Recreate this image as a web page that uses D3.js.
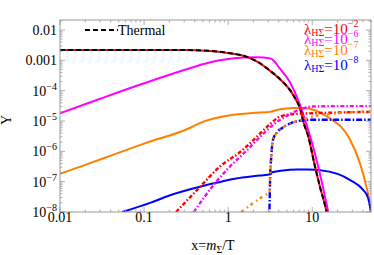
<!DOCTYPE html>
<html><head><meta charset="utf-8">
<script src="https://cdn.jsdelivr.net/npm/d3@7"></script>
<style>body{margin:0;background:#fff}svg{display:block}text{font-family:"Liberation Serif","DejaVu Serif",serif}</style>
</head><body><svg id="c" width="374" height="255"></svg>
<script>
// ---- data (x, Y) ----
const thermal = [[0.01,2.2e-3],[0.1,2.2e-3],[0.3,2.18e-3],[0.6,2.05e-3],[1,1.75e-3],[1.67,1.3e-3],[2.3,8.5e-4],[3.16,4.5e-4],[4.2,2.3e-4],[5.5,1e-4],[6.4,5e-5],[7.2,2.5e-5],[7.8,1e-5],[9,3e-6],[10.7,3.5e-7],[12.5,6e-8],[14.8,1e-8],[16,3e-9]];
const red_solid = thermal.map(d => d.slice());
const mag_solid = [[0.01,1.8e-5],[0.03,5.4e-5],[0.1,1.75e-4],[0.3,4.8e-4],[0.6,8.5e-4],[1,1.1e-3],[1.5,1.25e-3],[2.2,1.27e-3],[3.2,1.15e-3],[4.2,5e-4],[5.5,1.8e-4],[7,4e-5],[8.2,1.1e-5],[10,1.8e-6],[12,2.5e-7],[15.5,1e-8],[17,3e-9]];
const org_solid = [[0.01,1.8e-7],[0.03,5.4e-7],[0.1,1.8e-6],[0.355,6e-6],[0.46,8.5e-6],[1.15,1.6e-5],[2,1.85e-5],[3.16,2e-5],[4,2.4e-5],[5.9,2.7e-5],[8,2.7e-5],[12,2e-5],[18,1e-5],[22,6.5e-6],[28,2.5e-6],[37,4e-7],[44,7e-8],[47,3e-8],[50,1e-8]];
const blu_solid = [[0.055,1e-8],[0.118,2e-8],[0.2,3.5e-8],[0.46,6.8e-8],[0.7,9e-8],[1.2,1.25e-7],[2.4,1.6e-7],[3.15,1.75e-7],[3.35,2.05e-7],[4.5,2.35e-7],[6.6,2.5e-7],[9,2.5e-7],[12.5,2.4e-7],[20,1.8e-7],[28,1.15e-7],[40,5.5e-8],[46,3e-8],[50,1e-8]];
const red_dd = [[0.24,1e-8],[0.46,6.6e-8],[0.8,3.2e-7],[1.39,9.5e-7],[1.98,2.3e-6],[3,7e-6],[4.16,1.4e-5],[6,1.7e-5],[10,1.8e-5],[20,1.9e-5],[50,2e-5]];
const mag_dd = [[0.39,1e-8],[0.7,9e-8],[0.97,2.5e-7],[1.68,1.1e-6],[2.4,3e-6],[3.4,7.4e-6],[4.8,1.4e-5],[7.2,2.4e-5],[10,3e-5],[20,3.1e-5],[50,3.1e-5]];
const org_dd = [[1.43,1e-8],[2,2e-8],[2.6,3.3e-8],[3.1,4.7e-8],[3.16,1.5e-7],[3.25,6e-7],[3.4,2.3e-6],[3.8,4.2e-6],[4.4,5.9e-6],[5.7,8.7e-6],[7.6,1.1e-5],[10,1.4e-5],[20,1.8e-5],[50,2.1e-5]];
const blu_dd = [[3.08,5e-9],[3.12,3e-8],[3.16,1.5e-7],[3.25,6e-7],[3.4,2.3e-6],[3.8,4.2e-6],[4.4,5.9e-6],[5.7,8.7e-6],[7.6,1.05e-5],[10,1.1e-5],[50,1.1e-5]];
const xTicks = [0.01,0.1,1,10];
const xTickLabels = ["0.01","0.1","1","10"];
const yTicks = [1e-2,1e-3,1e-4,1e-5,1e-6,1e-7,1e-8];
const yTickLabels = [["0.01",""],["0.001",""],["10","−4"],["10","−5"],["10","−6"],["10","−7"],["10","−8"]];
const legendLabels = [["−2","#ff0000"],["−6","#ff00ff"],["−7","#ff8000"],["−8","#0000ff"]];

// ---- layout ----
const L=60,R=371,T=20,B=212;
const svg=d3.select("#c");
const x=d3.scaleLog().domain([0.01,50]).range([L,R]);
const y=d3.scaleLog().domain([1e-8,Math.pow(10,-2+10/30.33)]).range([B,T]);
svg.append("defs").append("clipPath").attr("id","clip").append("rect").attr("x",L).attr("y",T).attr("width",R-L).attr("height",B-T);
const g=svg.append("g").attr("clip-path","url(#clip)");
const line=d3.line().x(d=>x(d[0])).y(d=>y(d[1])).curve(d3.curveMonotoneX);
function draw(data,color,dash,w){g.append("path").datum(data).attr("d",line).attr("fill","none").attr("stroke",color).attr("stroke-width",w||2).attr("stroke-dasharray",dash||null);}
draw(org_solid,"#ff8000");
draw(blu_solid,"#0000ff");
draw(mag_solid,"#ff00ff");
draw(red_solid,"#ff0000");
draw(thermal,"#000","5,3");
draw(red_dd,"#ff0000","4,2,1.5,2",2.4);
draw(mag_dd,"#ff00ff","4,2,1.5,2",2.4);
draw(blu_dd,"#0000ff","6,2,1.5,2",2.4);
draw(org_dd,"#ff8000","3,4,1.5,3",2.4);

// ---- frame & ticks ----
const fc="#999";
svg.append("rect").attr("x",L).attr("y",T).attr("width",R-L).attr("height",B-T).attr("fill","none").attr("stroke",fc).attr("stroke-width",1);
const minorX=[];for(let e=-2;e<=1;e++)for(let k=2;k<=9;k++){const v=k*Math.pow(10,e);if(v<=50)minorX.push(v);}
const minorY=[];for(let e=-8;e<=-2;e++)for(let k=2;k<=9;k++){const v=k*Math.pow(10,e);if(v<=y.domain()[1])minorY.push(v);}
const tk=svg.append("g").attr("stroke",fc).attr("stroke-width",0.8);
xTicks.forEach(v=>{tk.append("line").attr("x1",x(v)).attr("x2",x(v)).attr("y1",B).attr("y2",B-5);tk.append("line").attr("x1",x(v)).attr("x2",x(v)).attr("y1",T).attr("y2",T+5);});
minorX.forEach(v=>{tk.append("line").attr("x1",x(v)).attr("x2",x(v)).attr("y1",B).attr("y2",B-2.5);tk.append("line").attr("x1",x(v)).attr("x2",x(v)).attr("y1",T).attr("y2",T+2.5);});
yTicks.forEach(v=>{tk.append("line").attr("y1",y(v)).attr("y2",y(v)).attr("x1",L).attr("x2",L+5);tk.append("line").attr("y1",y(v)).attr("y2",y(v)).attr("x1",R).attr("x2",R-5);});
minorY.forEach(v=>{tk.append("line").attr("y1",y(v)).attr("y2",y(v)).attr("x1",L).attr("x2",L+2.5);tk.append("line").attr("y1",y(v)).attr("y2",y(v)).attr("x1",R).attr("x2",R-2.5);});

// tick labels
xTicks.forEach((v,i)=>{svg.append("text").attr("x",x(v)).attr("y",B+10).attr("text-anchor","middle").attr("font-size",14).attr("fill","#000").text(xTickLabels[i]);});
yTicks.forEach((v,i)=>{const t=svg.append("text").attr("x",L-3).attr("y",y(v)+5).attr("text-anchor","end").attr("font-size",14).attr("fill","#000");
 t.append("tspan").text(yTickLabels[i][0]); if(yTickLabels[i][1]){t.append("tspan").attr("dy",-6).attr("font-size",10).text(yTickLabels[i][1]);}});

// axis titles
const xl=svg.append("text").attr("x",213).attr("y",250).attr("text-anchor","middle").attr("font-size",14).attr("fill","#000");
xl.append("tspan").text("x=");xl.append("tspan").attr("font-style","italic").text("m");xl.append("tspan").attr("dy",3).attr("font-size",10).text("Σ");xl.append("tspan").attr("dy",-3).text("/T");
svg.append("text").attr("transform","translate(11,120) rotate(-90)").attr("text-anchor","middle").attr("font-size",14).attr("fill","#000").text("Y");

// legend thermal
svg.append("line").attr("x1",85).attr("x2",118).attr("y1",30).attr("y2",30).attr("stroke","#000").attr("stroke-width",2).attr("stroke-dasharray","5,3");
svg.append("text").attr("x",118).attr("y",35).attr("font-size",14).attr("fill","#000").text("Thermal");
// legend lambda
const ly=[34,44,55,70];
legendLabels.forEach((d,i)=>{const t=svg.append("text").attr("x",304).attr("y",ly[i]).attr("font-size",15).attr("fill",d[1]);
 t.append("tspan").text("λ");t.append("tspan").attr("dy",2).attr("font-size",10).text("HΣ");t.append("tspan").attr("dy",-2).text("=10");t.append("tspan").attr("dy",-7).attr("font-size",10).text(d[0]);});
</script></body></html>
